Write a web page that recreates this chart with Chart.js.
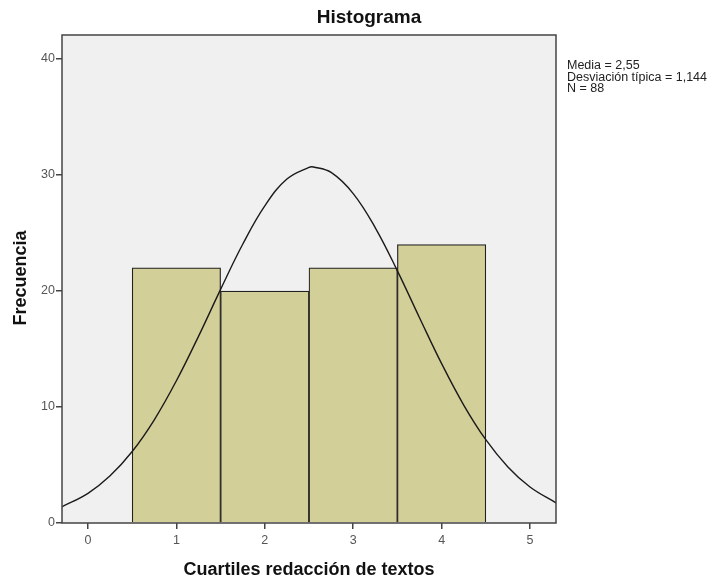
<!DOCTYPE html>
<html>
<head>
<meta charset="utf-8">
<script src="https://cdn.jsdelivr.net/npm/chart.js@4"></script>
<style>
  body { margin: 0; background: #fff; }
  #wrap { width: 711px; height: 579px; }
</style>
</head>
<body>
<div id="wrap"><canvas id="hist" width="711" height="579"></canvas></div>
<script>
// valores del histograma
const cuartiles = [1, 2, 3, 4];
const frecuencias = [22, 20, 22, 24];

// curva normal
const curvaX = [-0.3, 0, 0.25, 0.5, 0.75, 1, 1.25, 1.5, 1.75, 2, 2.25, 2.5, 2.55, 2.75, 3, 3.25, 3.5, 3.75, 4, 4.25, 4.5, 4.75, 5, 5.3];
const curvaY = [1.38, 2.56, 4.07, 6.16, 8.9, 12.26, 16.09, 20.14, 24.03, 27.34, 29.65, 30.66, 30.69, 30.22, 28.4, 25.45, 21.74, 17.7, 13.74, 10.17, 7.18, 4.83, 3.1, 1.71];

const ticksY = [0, 10, 20, 30, 40];
const ticksX = [0, 1, 2, 3, 4, 5];
const estadisticos = ["Media = 2,55", "Desviación típica = 1,144", "N = 88"];

const fuente = "'Liberation Sans', Arial, sans-serif";

const fondoPlot = {
    id: 'fondoPlot',
    beforeDraw(chart) {
        const { ctx, chartArea: a } = chart;
        ctx.save();
        ctx.fillStyle = '#f0f0f0';
        ctx.fillRect(a.left, a.top, a.right - a.left, a.bottom - a.top);
        ctx.restore();
    },
    afterDraw(chart) {
        const { ctx, chartArea: a } = chart;
        ctx.save();
        ctx.strokeStyle = '#444';
        ctx.lineWidth = 1.5;
        ctx.strokeRect(a.left, a.top, a.right - a.left, a.bottom - a.top);
        ctx.fillStyle = '#111';
        ctx.textBaseline = 'middle';
        ctx.textAlign = 'center';
        // titulo
        ctx.font = "bold 19px " + fuente;
        ctx.fillText('Histograma', 369, 18);
        // titulos de ejes
        ctx.font = "bold 18px " + fuente;
        ctx.fillText('Cuartiles redacción de textos', (a.left + a.right) / 2, 570);
        ctx.save();
        ctx.translate(21, 278);
        ctx.rotate(-Math.PI / 2);
        ctx.fillText('Frecuencia', 0, 0);
        ctx.restore();
        // estadisticos
        ctx.font = "12.5px " + fuente;
        ctx.textAlign = 'left';
        ctx.fillStyle = '#222';
        estadisticos.forEach((t, i) => ctx.fillText(t, a.right + 11, 66 + i * 11.5));
        ctx.restore();
    }
};

new Chart(document.getElementById('hist'), {
    data: {
        datasets: [
            {
                type: 'line',
                data: curvaX.map((x, i) => ({ x: x, y: curvaY[i] })),
                borderColor: '#1a1a1a',
                borderWidth: 1.4,
                pointRadius: 0,
                tension: 0.4,
                order: 0
            },
            {
                type: 'bar',
                data: cuartiles.map((c, i) => ({ x: c, y: frecuencias[i] })),
                backgroundColor: '#d3cf98',
                borderColor: '#222',
                borderWidth: 1.2,
                barPercentage: 1,
                categoryPercentage: 1,
                order: 1
            }
        ]
    },
    plugins: [fondoPlot],
    options: {
        responsive: false,
        animation: false,
        layout: { padding: { left: 0, right: 155, top: 35, bottom: 0 } },
        plugins: { legend: { display: false }, tooltip: { enabled: false } },
        scales: {
            x: {
                type: 'linear',
                offset: false,
                min: -0.294,
                max: 5.294,
                afterFit: s => { s.height = 56; },
                afterBuildTicks: s => { s.ticks = ticksX.map(v => ({ value: v })); },
                grid: { offset: false, drawOnChartArea: false, drawTicks: true, tickLength: 6, color: '#444', lineWidth: 1.5 },
                border: { display: false },
                ticks: { font: { size: 12.5, family: fuente }, color: '#555', padding: 4 },
                title: { display: false }
            },
            y: {
                min: 0,
                max: 42.07,
                afterFit: s => { s.width = 62; },
                afterBuildTicks: s => { s.ticks = ticksY.map(v => ({ value: v })); },
                grid: { drawOnChartArea: false, drawTicks: true, tickLength: 6, color: '#444', lineWidth: 1.5 },
                border: { display: false },
                ticks: { font: { size: 12.5, family: fuente }, color: '#555', padding: 1 },
                title: { display: false }
            }
        }
    }
});
</script>
</body>
</html>
